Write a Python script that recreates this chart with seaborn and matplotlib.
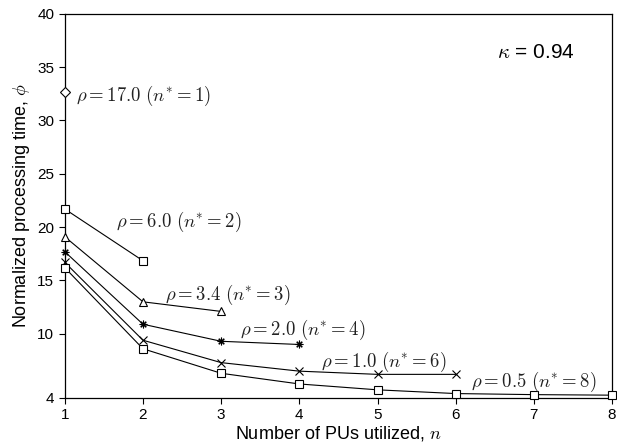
import matplotlib
matplotlib.use("Agg")
import matplotlib.pyplot as plt
import seaborn as sns
import pandas as pd

n_rho17 = [1]
phi_rho17 = [32.7]
n_rho6 = [1, 2]
phi_rho6 = [21.7, 16.85]
n_rho34 = [1, 2, 3]
phi_rho34 = [19.1, 13.0, 12.1]
n_rho2 = [1, 2, 3, 4]
phi_rho2 = [17.7, 10.9, 9.3, 9.0]
n_rho1 = [1, 2, 3, 4, 5, 6]
phi_rho1 = [16.7, 9.4, 7.3, 6.5, 6.2, 6.2]
n_rho05 = [1, 2, 3, 4, 5, 6, 7, 8]
phi_rho05 = [16.2, 8.6, 6.3, 5.3, 4.75, 4.4, 4.3, 4.25]

labels = [r"$\rho = 17.0\ (n^{*} = 1)$", r"$\rho = 6.0\ (n^{*} = 2)$",
          r"$\rho = 3.4\ (n^{*} = 3)$", r"$\rho = 2.0\ (n^{*} = 4)$",
          r"$\rho = 1.0\ (n^{*} = 6)$", r"$\rho = 0.5\ (n^{*} = 8)$"]
label_pos = [(1.14, 32.3), (1.65, 20.5), (2.28, 13.6), (3.24, 10.4),
             (4.28, 7.4), (6.19, 5.5)]

series = [(n_rho17, phi_rho17, "D"), (n_rho6, phi_rho6, "s"),
          (n_rho34, phi_rho34, "^"), (n_rho2, phi_rho2, (8, 2, 0)),
          (n_rho1, phi_rho1, "x"), (n_rho05, phi_rho05, "s")]

sns.set_style("ticks", {"axes.edgecolor": "black", "xtick.color": "black",
                        "ytick.color": "black", "text.color": "black",
                        "axes.labelcolor": "black"})
plt.rcParams["font.family"] = ["Liberation Sans", "DejaVu Sans"]
plt.rcParams["mathtext.fontset"] = "cm"

fig = plt.figure(figsize=(6.17, 4.45), dpi=100)
ax = fig.add_axes([0.105, 0.106, 0.887, 0.863])

for xs, ys, m in series:
    df = pd.DataFrame({"n": xs, "phi": ys})
    sns.lineplot(data=df, x="n", y="phi", ax=ax, color="black", linewidth=0.8,
                 marker=m, markersize=5.5, markerfacecolor="white",
                 markeredgecolor="black", markeredgewidth=0.8, clip_on=False,
                 zorder=3)

for lab, (tx, ty) in zip(labels, label_pos):
    ax.text(tx, ty, lab, fontsize=13.5, va="center", ha="left", color="#222222")

ax.text(6.53, 36.4, r"$\kappa$ = 0.94", fontsize=15, va="center", ha="left")

ax.set_xlim(1, 8)
ax.set_ylim(4, 40)
ax.set_xticks(range(1, 9))
ax.set_yticks([4, 10, 15, 20, 25, 30, 35, 40])
ax.tick_params(labelsize=11, direction="out", length=4, width=0.8)
for s in ax.spines.values():
    s.set_linewidth(0.9)
ax.set_xlabel(r"Number of PUs utilized, $n$", fontsize=13, labelpad=1)
ax.set_ylabel(r"Normalized processing time, $\phi$", fontsize=13, labelpad=4)

fig.savefig("out.png", dpi=100)
